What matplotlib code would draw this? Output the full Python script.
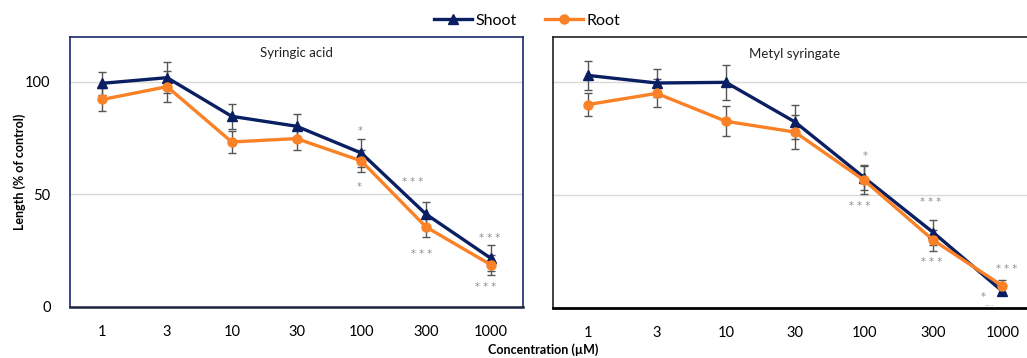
import matplotlib
matplotlib.use("Agg")
import matplotlib.pyplot as plt
from matplotlib.lines import Line2D

plt.rcParams['font.family'] = ['Lato', 'DejaVu Sans']

concentrations = ["1", "3", "10", "30", "100", "300", "1000"]

# Syringic acid
sa_shoot = [99.4, 101.9, 84.7, 80.3, 68.4, 41.2, 21.6]
sa_shoot_err = [5.2, 7.0, 5.7, 5.4, 6.3, 5.6, 5.7]
sa_root = [92.2, 97.9, 73.3, 74.8, 64.9, 35.5, 18.7]
sa_root_err = [5.2, 6.9, 4.8, 4.9, 5.0, 4.6, 4.5]

# Metyl syringate
ms_shoot = [103.1, 99.7, 100.0, 82.4, 57.7, 33.3, 7.2]
ms_shoot_err = [6.5, 6.4, 7.9, 7.4, 5.6, 5.5, 1.5]
ms_root = [90.1, 95.1, 82.7, 77.9, 56.5, 29.9, 9.6]
ms_root_err = [5.2, 6.2, 6.6, 7.7, 6.2, 4.7, 2.7]

# significance labels: (x index, y value, text)
sa_marks = [(3.98, 78.0, "*"), (3.97, 53.4, "*"), (4.8, 55.6, "* * *"),
            (4.94, 23.4, "* * *"), (5.98, 30.5, "* * *"), (5.93, 8.6, "* * *")]
ms_marks = [(4.02, 67.3, "*"), (3.93, 45.2, "* * *"), (4.96, 47.0, "* * *"),
            (4.97, 20.0, "* * *"), (6.06, 17.3, "* * *"), (5.72, 4.5, "*"),
            (5.82, 2.2, "...")]

NAVY = "#0a1f62"
ORANGE = "#fb8127"
ERR = "#555555"
MARK = "#8a8a8a"

W, H = 1027, 358
fig = plt.figure(figsize=(W / 100, H / 100), dpi=100)

def px_axes(x0, y0, x1, y1):
    return fig.add_axes([x0 / W, 1 - y1 / H, (x1 - x0) / W, (y1 - y0) / H])

ax1 = px_axes(70, 37, 523, 306.7)
ax2 = px_axes(553, 37.3, 1037, 307.5)

def draw(ax, shoot, shoot_err, root, root_err, marks, title):
    x = list(range(len(concentrations)))
    ax.errorbar(x, shoot, yerr=shoot_err, fmt='none', ecolor=ERR, elinewidth=1.0,
                capsize=3, capthick=1.0, zorder=2)
    ax.errorbar(x, root, yerr=root_err, fmt='none', ecolor=ERR, elinewidth=1.0,
                capsize=3, capthick=1.0, zorder=2)
    ax.plot(x, shoot, color=NAVY, lw=2.4, marker='^', ms=7, zorder=3)
    ax.plot(x, root, color=ORANGE, lw=2.4, marker='o', ms=6.5, zorder=4)
    for (xi, yi, t) in marks:
        ax.text(xi, yi, t, ha='center', va='center', fontsize=7.2, color=MARK,
                family='DejaVu Sans')
    ax.set_xlim(-0.5, 6.5)
    ax.set_ylim(0, 120)
    ax.set_yticks([0, 50, 100])
    ax.yaxis.grid(True, color="#d9d9d9", lw=1)
    ax.set_axisbelow(True)
    ax.set_xticks(x)
    ax.set_xticklabels(concentrations, fontsize=10.5)
    ax.tick_params(axis='both', length=0, labelsize=10.5)
    ax.tick_params(axis='x', pad=13)
    ax.tick_params(axis='y', pad=14)
    ax.text(0.5, 0.94, title, transform=ax.transAxes, ha='center', va='center',
            fontsize=9.5, color="#222222")

draw(ax1, sa_shoot, sa_shoot_err, sa_root, sa_root_err, sa_marks, "Syringic acid")
draw(ax2, ms_shoot, ms_shoot_err, ms_root, ms_root_err, ms_marks, "Metyl syringate")

for sp in ax1.spines.values():
    sp.set_color("#1c2a6e")
    sp.set_linewidth(1.2)
ax1.spines['bottom'].set_color("#1c2440")
ax1.spines['bottom'].set_linewidth(1.8)
for sp in ax2.spines.values():
    sp.set_color("#222222")
    sp.set_linewidth(1.2)
ax2.spines['bottom'].set_color("#000000")
ax2.spines['bottom'].set_linewidth(2.0)
ax2.set_yticklabels([])

fig.text(20 / W, 1 - 172 / H, "Length (% of control)", rotation=90, ha='center',
         va='center', fontsize=9, fontweight='bold')
fig.text(543 / W, 1 - 350 / H, "Concentration (µM)", ha='center', va='center',
         fontsize=9, fontweight='bold')

handles = [Line2D([], [], color=NAVY, lw=2.4, marker='^', ms=7),
           Line2D([], [], color=ORANGE, lw=2.4, marker='o', ms=6.5)]
fig.legend(handles, ["Shoot", "Root"], loc='center', bbox_to_anchor=(527 / W, 1 - 21 / H),
           ncol=2, frameon=False, fontsize=11.5, handlelength=2.4, handletextpad=0.2,
           columnspacing=1.8)

fig.savefig("out.png", dpi=100)
